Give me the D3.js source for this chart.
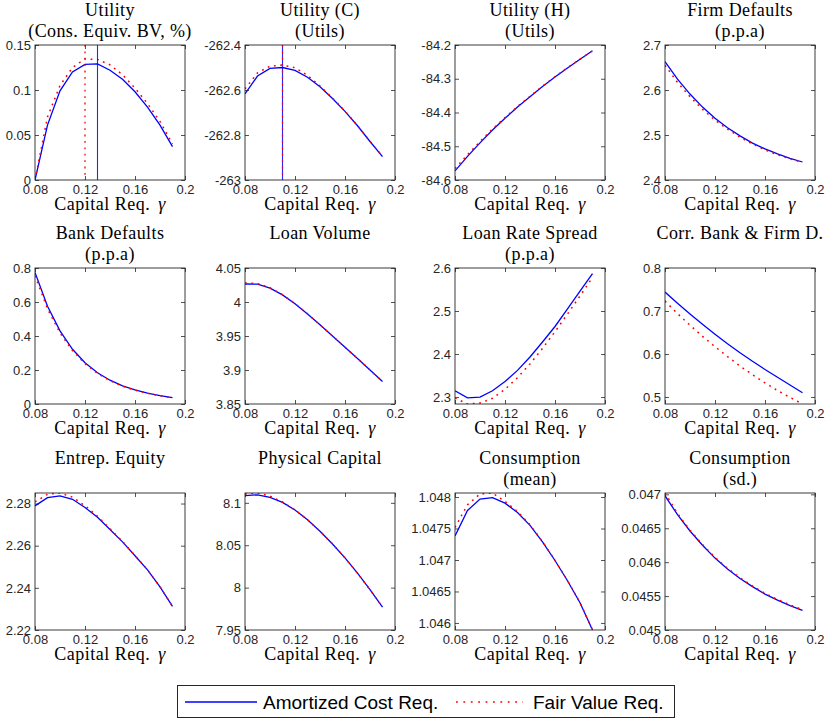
<!DOCTYPE html>
<html>
<head>
<meta charset="utf-8">
<script src="https://cdn.jsdelivr.net/npm/d3@7"></script>
<style>
  html, body { margin: 0; padding: 0; background: #fff; }
  svg { display: block; }
</style>
</head>
<body>
<svg id="chart" width="828" height="721"></svg>
<script>
// Capital requirement grid (x axis of every panel)
const gamma = [0.08, 0.09, 0.10, 0.11, 0.12, 0.13, 0.14, 0.15, 0.16, 0.17, 0.18, 0.19];
const xTicks = [0.08, 0.12, 0.16, 0.2];
const seriesNames = ["Amortized Cost Req.", "Fair Value Req."];

// Utility, consumption equivalent (% of BV)
const utilCE_ac = [0, 0.061, 0.099, 0.120, 0.1285, 0.1290, 0.122, 0.112, 0.098, 0.081, 0.061, 0.037];
const utilCE_fv = [0, 0.070, 0.105, 0.125, 0.1345, 0.1340, 0.128, 0.117, 0.102, 0.085, 0.065, 0.040];
const utilCE_ticks = [0, 0.05, 0.1, 0.15];

// Utility (C), utils
const utilC_ac = [-262.617, -262.538, -262.504, -262.500, -262.513, -262.543, -262.586, -262.638, -262.695, -262.759, -262.829, -262.896];
const utilC_fv = [-262.595, -262.524, -262.494, -262.489, -262.501, -262.535, -262.582, -262.636, -262.694, -262.758, -262.828, -262.895];
const utilC_ticks = [-263, -262.8, -262.6, -262.4];

// Utility (H), utils
const utilH_ac = [-84.573, -84.530, -84.490, -84.452, -84.417, -84.384, -84.353, -84.323, -84.295, -84.268, -84.242, -84.217];
const utilH_fv = [-84.566, -84.525, -84.486, -84.449, -84.415, -84.382, -84.352, -84.322, -84.294, -84.267, -84.242, -84.217];
const utilH_ticks = [-84.6, -84.5, -84.4, -84.3, -84.2];

// Firm defaults (p.p.a)
const firmDef_ac = [2.663, 2.624, 2.591, 2.562, 2.537, 2.516, 2.498, 2.482, 2.469, 2.458, 2.448, 2.440];
const firmDef_fv = [2.655, 2.617, 2.585, 2.557, 2.533, 2.513, 2.495, 2.480, 2.467, 2.456, 2.447, 2.439];
const firmDef_ticks = [2.4, 2.5, 2.6, 2.7];

// Bank defaults (p.p.a)
const bankDef_ac = [0.774, 0.575, 0.430, 0.322, 0.243, 0.184, 0.140, 0.107, 0.083, 0.064, 0.049, 0.037];
const bankDef_fv = [0.755, 0.560, 0.418, 0.314, 0.237, 0.180, 0.137, 0.105, 0.081, 0.063, 0.048, 0.036];
const bankDef_ticks = [0, 0.2, 0.4, 0.6, 0.8];

// Loan volume
const loanVol_ac = [4.0265, 4.0262, 4.0205, 4.0105, 3.9975, 3.9825, 3.9665, 3.9500, 3.9335, 3.9170, 3.9000, 3.8830];
const loanVol_fv = [4.0280, 4.0272, 4.0210, 4.0107, 3.9976, 3.9826, 3.9665, 3.9500, 3.9335, 3.9170, 3.9000, 3.8830];
const loanVol_ticks = [3.85, 3.9, 3.95, 4, 4.05];

// Loan rate spread (p.p.a)
const spread_ac = [2.3147, 2.298, 2.300, 2.3147, 2.336, 2.362, 2.393, 2.428, 2.464, 2.505, 2.546, 2.587];
const spread_fv = [2.298, 2.2838, 2.286, 2.297, 2.318, 2.345, 2.377, 2.413, 2.452, 2.493, 2.535, 2.578];
const spread_ticks = [2.3, 2.4, 2.5, 2.6];

// Correlation of bank and firm defaults
const corr_ac = [0.744, 0.718, 0.693, 0.669, 0.646, 0.624, 0.603, 0.583, 0.564, 0.546, 0.528, 0.510];
const corr_fv = [0.723, 0.694, 0.667, 0.641, 0.617, 0.594, 0.572, 0.552, 0.533, 0.515, 0.499, 0.4837];
const corr_ticks = [0.5, 0.6, 0.7, 0.8];

// Entrepreneurial equity
const equity_ac = [2.2789, 2.2828, 2.2836, 2.2820, 2.2781, 2.2735, 2.2677, 2.2618, 2.2552, 2.2485, 2.2405, 2.2312];
const equity_fv = [2.2808, 2.2844, 2.2850, 2.2830, 2.2790, 2.2740, 2.2680, 2.2620, 2.2553, 2.2486, 2.2405, 2.2312];
const equity_ticks = [2.22, 2.24, 2.26, 2.28];

// Physical capital
const capital_ac = [8.1085, 8.1095, 8.1065, 8.1005, 8.0915, 8.0800, 8.0665, 8.0515, 8.0350, 8.0170, 7.9975, 7.9770];
const capital_fv = [8.1105, 8.1116, 8.1080, 8.1010, 8.0917, 8.0801, 8.0665, 8.0515, 8.0350, 8.0170, 7.9975, 7.9770];
const capital_ticks = [7.95, 8, 8.05, 8.1];

// Consumption, mean
const consMean_ac = [1.047383, 1.047786, 1.047968, 1.047989, 1.047903, 1.047753, 1.047550, 1.047287, 1.046992, 1.046670, 1.046322, 1.045888];
const consMean_fv = [1.047517, 1.047877, 1.048048, 1.048064, 1.047930, 1.047770, 1.047560, 1.047292, 1.046995, 1.046672, 1.046323, 1.045890];
const consMean_ticks = [1.046, 1.0465, 1.047, 1.0475, 1.048];

// Consumption, standard deviation
const consSd_ac = [0.04698, 0.04670, 0.04646, 0.04625, 0.04606, 0.04590, 0.04576, 0.04564, 0.04553, 0.04544, 0.04536, 0.04529];
const consSd_fv = [0.04702, 0.04672, 0.04647, 0.04626, 0.04607, 0.04591, 0.04577, 0.04565, 0.04554, 0.04545, 0.04537, 0.04530];
const consSd_ticks = [0.045, 0.0455, 0.046, 0.0465, 0.047];

// Panel specs; a null limit means "fit to the data"
const panels = [
  { title: ["Utility", "(Cons. Equiv. BV, %)"], ac: utilCE_ac, fv: utilCE_fv, ticks: utilCE_ticks, lim: [0, 0.15], peak: true },
  { title: ["Utility (C)", "(Utils)"], ac: utilC_ac, fv: utilC_fv, ticks: utilC_ticks, lim: [-263, -262.4], peak: true },
  { title: ["Utility (H)", "(Utils)"], ac: utilH_ac, fv: utilH_fv, ticks: utilH_ticks, lim: [-84.6, -84.2] },
  { title: ["Firm Defaults", "(p.p.a)"], ac: firmDef_ac, fv: firmDef_fv, ticks: firmDef_ticks, lim: [2.4, 2.7] },
  { title: ["Bank Defaults", "(p.p.a)"], ac: bankDef_ac, fv: bankDef_fv, ticks: bankDef_ticks, lim: [0, 0.8] },
  { title: ["Loan Volume"], ac: loanVol_ac, fv: loanVol_fv, ticks: loanVol_ticks, lim: [3.85, 4.05] },
  { title: ["Loan Rate Spread", "(p.p.a)"], ac: spread_ac, fv: spread_fv, ticks: spread_ticks, lim: [null, 2.6] },
  { title: ["Corr. Bank & Firm D."], ac: corr_ac, fv: corr_fv, ticks: corr_ticks, lim: [null, 0.8] },
  { title: ["Entrep. Equity"], ac: equity_ac, fv: equity_fv, ticks: equity_ticks, lim: [2.22, null] },
  { title: ["Physical Capital"], ac: capital_ac, fv: capital_fv, ticks: capital_ticks, lim: [7.95, null] },
  { title: ["Consumption", "(mean)"], ac: consMean_ac, fv: consMean_fv, ticks: consMean_ticks, lim: [null, null] },
  { title: ["Consumption", "(sd.)"], ac: consSd_ac, fv: consSd_fv, ticks: consSd_ticks, lim: [0.045, null] }
];

// Layout
const colLeft = [35, 245, 455, 665];
const plotW = 150;
const rowTop = [45, 268, 493];
const rowBottom = [180, 404, 630];

const BLUE = "#0000ff", RED = "#ff0000", AXIS = "#262626";
const serif = "'Liberation Serif', 'Times New Roman', serif";
const sans = "'Liberation Sans', Arial, Helvetica, sans-serif";
const fmt = d => String(+d.toFixed(6));

const svg = d3.select("#chart");

panels.forEach((p, i) => {
  const col = i % 4, row = Math.floor(i / 4);
  const left = colLeft[col], right = left + plotW;
  const top = rowTop[row], bottom = rowBottom[row];

  const all = p.ac.concat(p.fv);
  const lo = p.lim[0] !== null ? p.lim[0] : d3.min(all);
  const hi = p.lim[1] !== null ? p.lim[1] : d3.max(all);

  const x = d3.scaleLinear().domain([0.08, 0.2]).range([left, right]);
  const y = d3.scaleLinear().domain([lo, hi]).range([bottom, top]);

  const g = svg.append("g");

  const clipId = "clip" + i;
  svg.append("clipPath").attr("id", clipId)
    .append("rect").attr("x", left).attr("y", top).attr("width", plotW).attr("height", bottom - top);

  // axes: labelled left/bottom, tick-only right/top, ticks pointing inward
  const styleAxis = sel => {
    sel.select(".domain").remove();
    sel.selectAll("line").attr("stroke", AXIS).attr("stroke-width", 0.8);
    sel.selectAll("text").attr("fill", AXIS).style("font-family", sans).style("font-size", "13px");
  };
  g.append("g").attr("transform", `translate(${left},0)`)
    .call(d3.axisLeft(y).tickValues(p.ticks).tickFormat(fmt).tickSizeInner(-4).tickSizeOuter(0).tickPadding(4))
    .call(styleAxis);
  g.append("g").attr("transform", `translate(${right},0)`)
    .call(d3.axisRight(y).tickValues(p.ticks).tickFormat("").tickSizeInner(-4).tickSizeOuter(0))
    .call(styleAxis);
  g.append("g").attr("transform", `translate(0,${bottom})`)
    .call(d3.axisBottom(x).tickValues(xTicks).tickFormat(fmt).tickSizeInner(-4).tickSizeOuter(0).tickPadding(5))
    .call(styleAxis);
  g.append("g").attr("transform", `translate(0,${top})`)
    .call(d3.axisTop(x).tickValues(xTicks).tickFormat("").tickSizeInner(-4).tickSizeOuter(0))
    .call(styleAxis);

  const plot = g.append("g").attr("clip-path", `url(#${clipId})`);
  const line = d3.line().x((d, k) => x(gamma[k])).y(d => y(d));

  plot.append("path").datum(p.ac).attr("d", line)
    .attr("fill", "none").attr("stroke", BLUE).attr("stroke-width", 1.3);
  plot.append("path").datum(p.fv).attr("d", line)
    .attr("fill", "none").attr("stroke", RED).attr("stroke-width", 1.5)
    .attr("stroke-dasharray", "1.8,4.6");

  // optimal requirement markers for the utility panels
  if (p.peak) {
    const gAc = gamma[d3.maxIndex(p.ac)], gFv = gamma[d3.maxIndex(p.fv)];
    plot.append("line").attr("x1", x(gAc)).attr("x2", x(gAc)).attr("y1", top).attr("y2", bottom)
      .attr("stroke", BLUE).attr("stroke-width", 1.1).attr("stroke-opacity", 0.85);
    plot.append("line").attr("x1", x(gFv)).attr("x2", x(gFv)).attr("y1", top).attr("y2", bottom)
      .attr("stroke", RED).attr("stroke-width", 1.3).attr("stroke-dasharray", "1.8,4.6");
  }

  // frame
  g.append("rect").attr("x", left).attr("y", top).attr("width", plotW).attr("height", bottom - top)
    .attr("fill", "none").attr("stroke", AXIS).attr("stroke-width", 0.9);

  // titles
  const cx = left + plotW / 2;
  p.title.forEach((t, k) => {
    g.append("text").attr("x", cx).attr("y", top - 29 + 21 * k)
      .attr("text-anchor", "middle").style("font-family", serif).style("font-size", "18px")
      .style("letter-spacing", "0.4px").attr("fill", "#000").text(t);
  });

  // x label
  const xl = g.append("text").attr("x", cx).attr("y", bottom + 30)
    .attr("text-anchor", "middle").style("font-family", serif).style("font-size", "18px")
    .style("letter-spacing", "0.5px").attr("fill", "#000");
  xl.append("tspan").text("Capital Req.");
  xl.append("tspan").attr("dx", 8).style("font-style", "italic").text("γ");
});

// legend
const lg = svg.append("g");
lg.append("rect").attr("x", 177.5).attr("y", 685.5).attr("width", 497).attr("height", 32)
  .attr("fill", "#fff").attr("stroke", AXIS).attr("stroke-width", 1);
lg.append("line").attr("x1", 185).attr("x2", 257).attr("y1", 702).attr("y2", 702)
  .attr("stroke", BLUE).attr("stroke-width", 1.3);
lg.append("text").attr("x", 263).attr("y", 709).style("font-family", sans).style("font-size", "19px")
  .attr("fill", "#000").text(seriesNames[0]);
lg.append("line").attr("x1", 456).attr("x2", 523).attr("y1", 702).attr("y2", 702)
  .attr("stroke", RED).attr("stroke-width", 1.5).attr("stroke-dasharray", "1.8,5.6");
lg.append("text").attr("x", 533).attr("y", 709).style("font-family", sans).style("font-size", "19px")
  .attr("fill", "#000").text(seriesNames[1]);
</script>
</body>
</html>
